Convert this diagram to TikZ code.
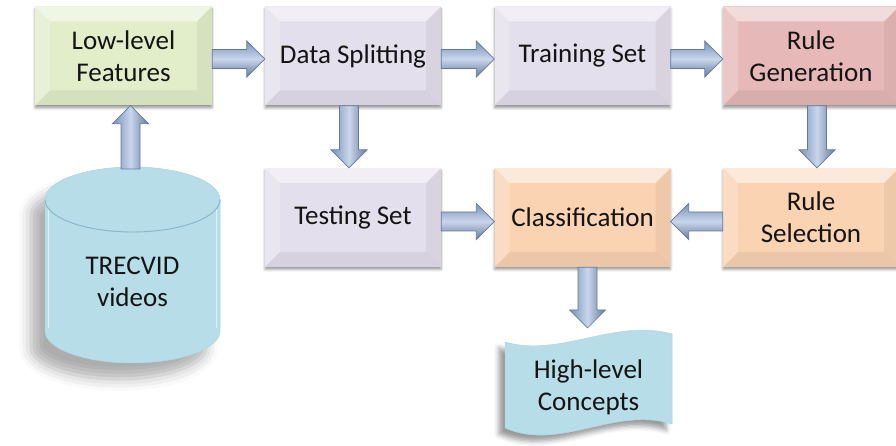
\documentclass[tikz,border=0pt]{standalone}
\usepackage{fontspec}
\setmainfont{Carlito}
\usetikzlibrary{calc,shadows.blur}

\definecolor{greenbox}{HTML}{E2EECA}
\definecolor{lilacbox}{HTML}{E4DFEC}
\definecolor{pinkbox}{HTML}{E6B9B8}
\definecolor{peachbox}{HTML}{FAD3B3}
\definecolor{aquafill}{HTML}{B7DDE8}
\definecolor{aquaedge}{HTML}{86B6CB}
\definecolor{arrowedge}{HTML}{62799F}
\definecolor{arrowlight}{HTML}{C9D6EB}
\definecolor{arrowdark}{HTML}{7890B8}
\definecolor{inkblack}{HTML}{141414}

\newcommand\boxfont{\fontsize{27}{32}\selectfont}

\tikzset{
  bevelbox/.style={
    rectangle, minimum width=176pt, minimum height=99pt, inner sep=0pt,
    align=center, font=\boxfont, text=inkblack, fill=#1,
    blur shadow={shadow xshift=0pt, shadow yshift=-2.5pt,
                 shadow blur radius=2.5pt, shadow opacity=40},
    path picture={
      \path (path picture bounding box.north west) coordinate (bnw)
            (path picture bounding box.north east) coordinate (bne)
            (path picture bounding box.south west) coordinate (bsw)
            (path picture bounding box.south east) coordinate (bse);
      % top facet
      \fill[white, opacity=.5] (bnw) -- (bne) -- ([shift={(-15pt,-15pt)}]bne)
        -- ([shift={(15pt,-15pt)}]bnw) -- cycle;
      % left facet
      \fill[white, opacity=.22] (bnw) -- ([shift={(15pt,-15pt)}]bnw)
        -- ([shift={(15pt,15pt)}]bsw) -- (bsw) -- cycle;
      % bottom facet
      \fill[black, opacity=.06] (bsw) -- ([shift={(15pt,15pt)}]bsw)
        -- ([shift={(-15pt,15pt)}]bse) -- (bse) -- cycle;
      % right facet
      \fill[black, opacity=.05] (bse) -- ([shift={(-15pt,15pt)}]bse)
        -- ([shift={(-15pt,-15pt)}]bne) -- (bne) -- cycle;
    }},
  harrow/.style={draw=arrowedge, line width=.7pt, line join=miter,
    top color=arrowdark, bottom color=arrowdark!85!black, middle color=arrowlight},
  varrow/.style={draw=arrowedge, line width=.7pt, line join=miter,
    left color=arrowdark, right color=arrowdark!85!black, middle color=arrowlight},
  plaintext/.style={align=center, font=\boxfont, text=inkblack, inner sep=0pt},
}

% horizontal block arrow: tail, tip, vertical offset
\newcommand\hblock[3]{%
  \path[harrow] let \p1=(#1), \p2=(#2), \n1={ifthenelse(\x2>\x1,1,-1)} in
    ({\x1}, {\y1+(#3)+9.5pt}) -- ({\x2-\n1*18pt}, {\y1+(#3)+9.5pt})
    -- ({\x2-\n1*18pt}, {\y1+(#3)+18pt}) -- ({\x2}, {\y1+(#3)})
    -- ({\x2-\n1*18pt}, {\y1+(#3)-18pt}) -- ({\x2-\n1*18pt}, {\y1+(#3)-9.5pt})
    -- ({\x1}, {\y1+(#3)-9.5pt}) -- cycle;}

% vertical block arrow: tail, tip, horizontal offset
\newcommand\vblock[3]{%
  \path[varrow] let \p1=(#1), \p2=(#2), \n1={ifthenelse(\y2>\y1,1,-1)} in
    ({\x1+(#3)-9.5pt}, {\y1}) -- ({\x1+(#3)-9.5pt}, {\y2-\n1*18pt})
    -- ({\x1+(#3)-18pt}, {\y2-\n1*18pt}) -- ({\x1+(#3)}, {\y2})
    -- ({\x1+(#3)+18pt}, {\y2-\n1*18pt}) -- ({\x1+(#3)+9.5pt}, {\y2-\n1*18pt})
    -- ({\x1+(#3)+9.5pt}, {\y1}) -- cycle;}

\begin{document}
\begin{tikzpicture}[x=1pt, y=1pt]
\useasboundingbox (0,0) rectangle (896,446);
\clip (0,0) rectangle (896,446);

% process boxes
\node[bevelbox=greenbox, minimum width=177pt] (lowlevel) at (123.5,390) {Low-level\\Features};
\node[bevelbox=lilacbox] (split) at (353,390) {Data Splitting};
\node[bevelbox=lilacbox] (train) at (582.5,390) {Training Set};
\node[bevelbox=pinkbox] (rulegen) at (811,390) {Rule\\Generation};
\node[bevelbox=lilacbox] (test) at (353,228.5) {Testing Set};
\node[bevelbox=peachbox] (classify) at (582.5,228.5) {Classification};
\node[bevelbox=peachbox] (rulesel) at (811,228.5) {Rule\\Selection};

% database cylinder
\path[fill=aquafill, blur shadow={shadow xshift=-14pt, shadow yshift=-16pt,
      shadow blur radius=12pt, shadow opacity=32}]
  (45,246.5) -- (45,115) arc[start angle=180, end angle=360, x radius=87.5pt, y radius=32pt]
  -- (220,246.5) arc[start angle=0, end angle=180, x radius=87.5pt, y radius=32.5pt] -- cycle;
\draw[aquaedge!60, line width=.5pt]
  (45,246.5) -- (45,115) arc[start angle=180, end angle=360, x radius=87.5pt, y radius=32pt]
  -- (220,246.5);
\draw[white, opacity=.6, line width=1.2pt] (48.5,240) -- (48.5,118);
\draw[white, opacity=.6, line width=1.2pt] (216.5,240) -- (216.5,118);
\fill[aquafill] (132.5,246.5) ellipse[x radius=87.5pt, y radius=32.5pt];
\draw[aquaedge!60, line width=.5pt] (132.5,246.5) ellipse[x radius=87.5pt, y radius=32.5pt];
\draw[aquaedge, line width=.9pt]
  (45,246.5) arc[start angle=180, end angle=360, x radius=87.5pt, y radius=32.5pt];
\coordinate (cyltop) at (132.5,277);
\node[plaintext] (videos) at (132.5,164) {TRECVID\\videos};

% output document
\path[fill=aquafill, draw=aquaedge!60, line width=.5pt,
      blur shadow={shadow xshift=-6pt, shadow yshift=-6pt,
      shadow blur radius=5pt, shadow opacity=40}]
  (505,104) .. controls (560,88) and (615,128) .. (672,112)
  -- (672,22) .. controls (615,40) and (560,-6) .. (505,18) -- cycle;
\coordinate (doctop) at (588,118);
\node[plaintext] (concepts) at (588.5,59) {High-level\\Concepts};

% flow arrows
\vblock{cyltop}{lowlevel.south}{-2pt}
\hblock{lowlevel.east}{split.west}{-3pt}
\hblock{split.east}{train.west}{-3pt}
\hblock{train.east}{rulegen.west}{-3pt}
\vblock{split.south}{test.north}{-4pt}
\vblock{rulegen.south}{rulesel.north}{6pt}
\hblock{test.east}{classify.west}{-4pt}
\hblock{rulesel.west}{classify.east}{-4pt}
\vblock{classify.south}{doctop}{5pt}
\end{tikzpicture}
\end{document}
